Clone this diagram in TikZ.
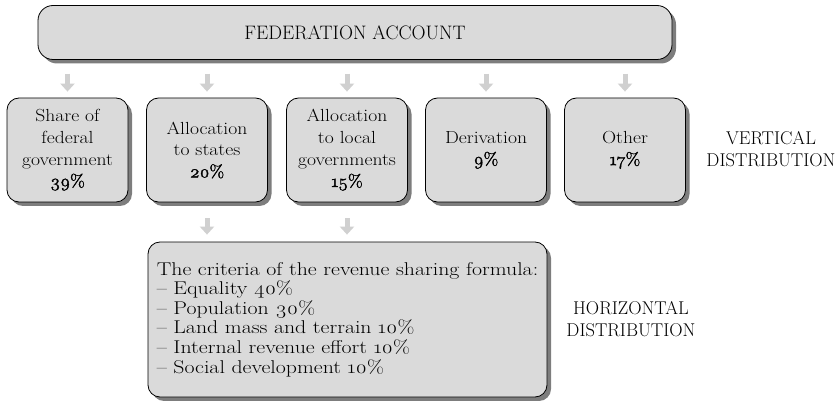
\documentclass[tikz,border=0pt]{standalone}
\usepackage{fontspec}
\setmainfont{Latin Modern Roman}[Numbers=OldStyle]
% wider cuts of the same face for the lowercase texts
\newfontfamily\widefont{Latin Modern Roman}[Numbers=OldStyle, Ligatures=TeX, FakeStretch=1.12]
\newfontfamily\widerfont{Latin Modern Roman}[Numbers=OldStyle, Ligatures=TeX, FakeStretch=1.18]
% emboldened figures for the share percentages
\newfontfamily\pctfont{Latin Modern Roman}[Numbers=OldStyle, FakeBold=2.2, FakeStretch=1.08]
\newcommand{\pct}[1]{{\pctfont #1}}
\usetikzlibrary{shadows,arrows.meta,calc}

\definecolor{boxgray}{RGB}{218,218,218}
\definecolor{shadegray}{RGB}{125,125,125}
\definecolor{arrowgray}{RGB}{208,208,208}

\begin{document}
\begin{tikzpicture}[x=1pt,y=-1pt,
  box/.style={draw=black, line width=0.8pt, fill=boxgray, rounded corners=12pt,
    drop shadow={shadow xshift=4pt, shadow yshift=-4pt, fill=shadegray, opacity=1},
    align=center, inner sep=0pt},
  sharebox/.style={box, minimum width=121pt, minimum height=104pt,
    font=\widefont\fontsize{17.5}{21.7}\selectfont},
  label/.style={align=center, font=\fontsize{18.5}{21.5}\selectfont},
  garrow/.style={draw=arrowgray, line width=5pt, -{Triangle[width=14pt,length=8pt]}}]

\useasboundingbox (0,0) rectangle (836,401);

% top level account
\node[box, rounded corners=15pt, minimum width=634pt, minimum height=54pt,
      font=\fontsize{19.5}{22}\selectfont] (fed) at (355,32.5) {FEDERATION ACCOUNT};

% vertical shares
\node[sharebox] (s1) at (67.5,150) {Share of\\federal\\government\\\pct{39\%}};
\node[sharebox] (s2) at (207,150) {Allocation\\to states\\\pct{20\%}};
\node[sharebox] (s3) at (347,150) {Allocation\\to local\\governments\\\pct{15\%}};
\node[sharebox] (s4) at (486,150) {Derivation\\\pct{9\%}};
\node[sharebox] (s5) at (625,150) {Other\\\pct{17\%}};

% horizontal sharing criteria
\node[box, minimum width=399pt, minimum height=155pt, align=left,
      font=\widerfont\fontsize{18.5}{19.6}\selectfont] (crit) at (347.5,319.5)
  {The criteria of the revenue sharing formula:\\
   \textendash{} Equality 40\%\\
   \textendash{} Population 30\%\\
   \textendash{} Land mass and terrain 10\%\\
   \textendash{} Internal revenue effort 10\%\\
   \textendash{} Social development 10\%};

\node[label] (vlab) at (771,149) {VERTICAL\\DISTRIBUTION};
\node[label] (hlab) at (631,319) {HORIZONTAL\\DISTRIBUTION};

% flow arrows
\foreach \b in {s1,s2,s3,s4,s5}
  \draw[garrow] ($(\b.north)+(0,-24)$) -- ($(\b.north)+(0,-6)$);
\foreach \b in {s2,s3}
  \draw[garrow] ($(\b.south)+(0,16)$) -- ($(crit.north -| \b.south)+(0,-7)$);

\end{tikzpicture}
\end{document}
